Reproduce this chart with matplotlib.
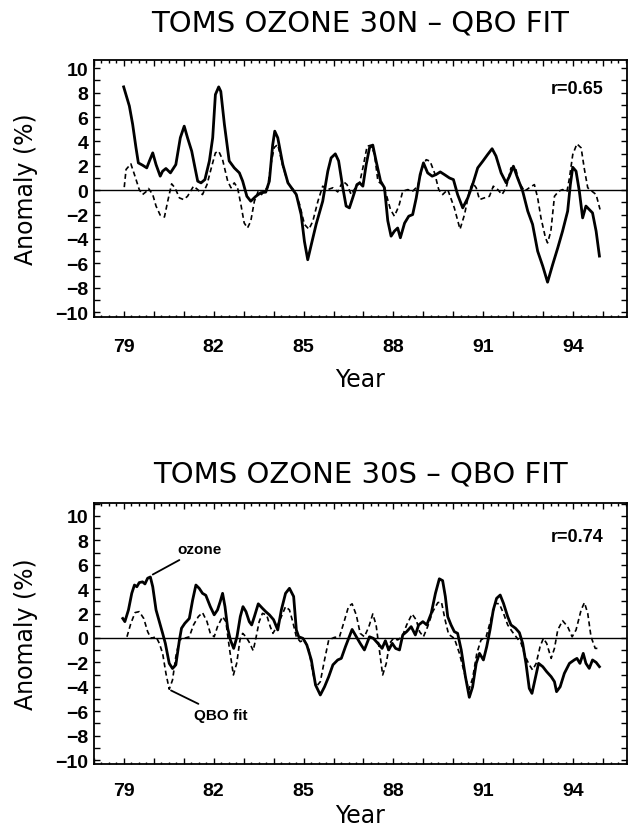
import matplotlib
matplotlib.use('Agg')
import matplotlib.pyplot as plt
from matplotlib.ticker import MultipleLocator, FuncFormatter

# ---- 30N panel data ----
n_oz_year = [79.0, 79.19, 79.3, 79.41, 79.49, 79.63, 79.77, 79.86, 79.97, 80.08,
             80.22, 80.3, 80.41, 80.56, 80.74, 80.89, 81.02, 81.13, 81.27, 81.38,
             81.47, 81.58, 81.71, 81.86, 81.97, 82.06, 82.17, 82.24, 82.36, 82.52,
             82.69, 82.86, 82.97, 83.11, 83.24, 83.41, 83.58, 83.74, 83.86, 83.97,
             84.04, 84.14, 84.31, 84.48, 84.64, 84.76, 84.92, 85.03, 85.14, 85.26,
             85.42, 85.64, 85.81, 85.92, 86.06, 86.17, 86.31, 86.42, 86.53, 86.64,
             86.78, 86.87, 86.98, 87.09, 87.2, 87.31, 87.42, 87.57, 87.7, 87.81,
             87.92, 88.03, 88.14, 88.23, 88.37, 88.51, 88.64, 88.76, 88.89, 89.0,
             89.14, 89.29, 89.42, 89.56, 89.7, 89.87, 90.0, 90.14, 90.31, 90.48,
             90.64, 90.81, 90.98, 91.14, 91.29, 91.42, 91.59, 91.76, 91.87, 92.0,
             92.14, 92.31, 92.48, 92.64, 92.81, 92.98, 93.14, 93.31, 93.48, 93.64,
             93.81, 93.9, 93.98, 94.09, 94.2, 94.31, 94.42, 94.53, 94.64, 94.76,
             94.87]
n_oz = [8.47, 6.9, 5.4, 3.5, 2.24, 2.05, 1.83, 2.4, 3.06, 2.1,
        1.15, 1.56, 1.78, 1.42, 2.1, 4.3, 5.25, 4.3, 3.2, 1.83,
        0.74, 0.6, 0.87, 2.4, 4.3, 7.84, 8.47, 8.1, 5.4, 2.4,
        1.83, 1.42, 0.74, -0.5, -0.9, -0.5, -0.2, -0.16, 0.74, 3.7,
        4.84, 4.3, 2.1, 0.6, 0.05, -0.36, -2.0, -4.2, -5.7, -4.45,
        -2.8, -0.9, 1.56, 2.65, 2.98, 2.4, 0.2, -1.3, -1.45, -0.63,
        0.46, 0.6, 0.33, 2.1, 3.47, 3.7, 2.4, 0.74, 0.2, -2.5,
        -3.77, -3.36, -3.1, -3.9, -2.7, -2.13, -2.0, -0.63, 1.28, 2.24,
        1.42, 1.15, 1.28, 1.5, 1.28, 1.0, 0.87, -0.36, -1.45, -0.63,
        0.46, 1.83, 2.38, 2.92, 3.4, 2.8, 1.42, 0.6, 1.15, 1.97,
        1.0, -0.08, -1.72, -2.8, -5.0, -6.23, -7.54, -6.1, -4.73, -3.36,
        -1.72, 0.46, 1.88, 1.56, -0.08, -2.27, -1.3, -1.58, -1.86, -3.36,
        -5.4]
n_qbo_year = [79.02, 79.08, 79.24, 79.36, 79.52, 79.63, 79.74, 79.83, 79.97, 80.08,
              80.22, 80.36, 80.47, 80.6, 80.71, 80.86, 81.0, 81.13, 81.33, 81.47,
              81.63, 81.78, 81.91, 82.06, 82.17, 82.3, 82.47, 82.58, 82.69, 82.8,
              82.91, 83.02, 83.13, 83.24, 83.36, 83.49, 83.6, 83.71, 83.8, 83.91,
              84.02, 84.14, 84.31, 84.48, 84.59, 84.7, 84.87, 85.03, 85.18, 85.31,
              85.48, 85.64, 85.81, 85.98, 86.14, 86.31, 86.45, 86.59, 86.73, 86.87,
              86.98, 87.12, 87.26, 87.37, 87.48, 87.62, 87.76, 87.9, 88.03, 88.18,
              88.31, 88.48, 88.64, 88.81, 88.96, 89.09, 89.22, 89.37, 89.51, 89.64,
              89.81, 90.03, 90.22, 90.37, 90.53, 90.64, 90.76, 90.87, 91.03, 91.2,
              91.33, 91.48, 91.62, 91.76, 91.92, 92.07, 92.2, 92.37, 92.53, 92.7,
              92.81, 92.92, 93.07, 93.14, 93.25, 93.37, 93.51, 93.64, 93.79, 93.87,
              93.98, 94.12, 94.26, 94.37, 94.48, 94.62, 94.76, 94.89]
n_qbo = [0.25, 1.7, 2.16, 1.28, 0.05, -0.36, -0.14, 0.14, -0.36, -1.3,
         -2.05, -2.2, -0.9, 0.52, 0.2, -0.63, -0.77, -0.5, 0.33, 0.05,
         -0.36, 0.46, 1.7, 3.06, 3.2, 2.5, 0.74, 0.2, 0.6, 0.2,
         -1.17, -2.68, -3.1, -2.54, -0.9, -0.08, -0.36, 0.05, 0.2, 2.1,
         3.5, 3.74, 1.97, 0.6, 0.2, -0.03, -1.17, -2.8, -3.2, -2.54,
         -0.9, 0.33, 0.05, 0.2, -0.14, 0.74, 0.46, -0.36, 0.2, 0.6,
         1.83, 3.6, 3.7, 2.9, 0.74, 0.46, -0.36, -1.58, -2.13, -1.3,
         -0.08, 0.05, -0.08, 0.33, 1.83, 2.5, 2.38, 1.42, 0.05, -0.36,
         0.05, -1.45, -3.2, -2.0, -0.08, 0.6, 0.2, -0.77, -0.63, -0.5,
         0.33, 0.05, -0.36, 0.2, 1.83, 1.83, 0.6, -0.08, 0.2, 0.46,
         -0.63, -2.27, -3.9, -4.32, -3.36, -0.5, -0.08, 0.05, -0.08, 1.0,
         2.92, 3.8, 3.47, 1.7, 0.2, -0.08, -0.36, -1.58]

# ---- 30S panel data ----
s_oz_year = [78.97, 79.04, 79.16, 79.27, 79.36, 79.44, 79.52, 79.63, 79.71, 79.8,
             79.89, 79.97, 80.08, 80.19, 80.3, 80.39, 80.52, 80.63, 80.74, 80.86,
             80.93, 81.04, 81.19, 81.3, 81.41, 81.52, 81.63, 81.74, 81.89, 82.02,
             82.13, 82.22, 82.3, 82.38, 82.47, 82.56, 82.67, 82.78, 82.89, 82.98,
             83.08, 83.19, 83.27, 83.36, 83.49, 83.63, 83.74, 83.86, 84.0, 84.14,
             84.26, 84.4, 84.53, 84.67, 84.76, 84.84, 84.98, 85.11, 85.26, 85.4,
             85.56, 85.7, 85.84, 85.98, 86.14, 86.26, 86.4, 86.62, 86.76, 86.89,
             87.03, 87.2, 87.33, 87.48, 87.62, 87.73, 87.84, 87.96, 88.07, 88.2,
             88.31, 88.44, 88.59, 88.73, 88.84, 88.98, 89.11, 89.26, 89.4, 89.53,
             89.64, 89.73, 89.81, 89.92, 90.03, 90.14, 90.26, 90.4, 90.53, 90.64,
             90.76, 90.87, 91.0, 91.11, 91.22, 91.33, 91.44, 91.56, 91.67, 91.81,
             91.92, 92.07, 92.2, 92.31, 92.42, 92.53, 92.62, 92.73, 92.84, 92.98,
             93.11, 93.26, 93.37, 93.44, 93.56, 93.7, 93.87, 94.03, 94.12, 94.22,
             94.33, 94.42, 94.53, 94.64, 94.76, 94.87]
s_oz = [1.6, 1.34, 2.3, 3.66, 4.34, 4.2, 4.54, 4.6, 4.43, 4.9,
        5.0, 4.2, 2.3, 1.34, 0.38, -0.44, -2.08, -2.5, -2.2, -0.16,
        0.8, 1.2, 1.6, 3.1, 4.34, 4.07, 3.66, 3.5, 2.57, 1.9,
        2.3, 2.98, 3.66, 2.57, 0.8, -0.16, -0.85, 0.1, 1.75, 2.57,
        2.16, 1.34, 1.07, 1.75, 2.8, 2.43, 2.16, 1.9, 1.5, 0.66,
        2.3, 3.66, 4.07, 3.4, 0.66, 0.1, -0.03, -0.57, -1.8, -3.85,
        -4.67, -4.0, -3.17, -2.2, -1.8, -1.67, -0.7, 0.7, 0.1, -0.44,
        -0.98, 0.1, -0.03, -0.44, -0.85, -0.22, -0.98, -0.44, -0.85, -0.98,
        0.25, 0.52, 0.93, 0.25, 1.07, 1.34, 1.07, 2.02, 3.66, 4.85,
        4.7, 3.4, 1.75, 1.07, 0.52, 0.38, -0.98, -3.17, -4.86, -4.0,
        -2.08, -1.26, -1.8, -0.71, 0.66, 2.3, 3.25, 3.52, 2.84, 1.75,
        1.07, 0.8, 0.44, -0.44, -2.08, -4.13, -4.54, -3.3, -2.08, -2.35,
        -2.76, -3.17, -3.58, -4.4, -4.0, -2.9, -2.08, -1.8, -1.67, -2.08,
        -1.26, -2.08, -2.49, -1.8, -2.0, -2.35]
s_qbo_year = [79.11, 79.24, 79.38, 79.52, 79.67, 79.8, 79.91, 80.08, 80.19, 80.3,
              80.41, 80.52, 80.63, 80.74, 80.86, 81.02, 81.19, 81.33, 81.49, 81.63,
              81.78, 81.89, 82.02, 82.13, 82.3, 82.41, 82.52, 82.66, 82.77, 82.88,
              82.97, 83.08, 83.21, 83.32, 83.41, 83.52, 83.63, 83.77, 83.89, 83.98,
              84.11, 84.26, 84.4, 84.53, 84.64, 84.76, 84.89, 85.03, 85.18, 85.29,
              85.42, 85.56, 85.7, 85.84, 86.03, 86.2, 86.37, 86.5, 86.62, 86.76,
              86.89, 87.03, 87.18, 87.31, 87.42, 87.53, 87.64, 87.76, 87.87, 88.0,
              88.14, 88.29, 88.44, 88.62, 88.76, 88.87, 89.0, 89.14, 89.31, 89.48,
              89.6, 89.73, 89.84, 90.03, 90.2, 90.37, 90.51, 90.64, 90.78, 90.92,
              91.09, 91.26, 91.4, 91.53, 91.67, 91.81, 91.96, 92.09, 92.26, 92.4,
              92.53, 92.64, 92.76, 92.89, 93.0, 93.11, 93.26, 93.37, 93.48, 93.64,
              93.81, 93.96, 94.09, 94.26, 94.37, 94.48, 94.59, 94.73, 94.81]
s_qbo = [0.1, 1.2, 2.08, 2.16, 1.6, 0.52, -0.03, 0.1, -0.44, -1.26,
         -2.9, -4.2, -3.44, -1.53, -0.16, -0.03, 0.1, 1.07, 1.75, 2.08,
         1.34, 0.38, 0.1, 0.93, 1.75, 1.34, -0.71, -3.03, -2.08, -0.16,
         0.38, 0.1, -0.44, -1.04, -0.03, 1.34, 2.02, 1.88, 0.93, 0.38,
         0.93, 1.75, 2.57, 2.3, 1.34, 0.1, -0.3, -0.16, -0.98, -2.62,
         -4.0, -3.58, -1.8, -0.16, 0.05, 0.1, 1.48, 2.57, 2.8, 1.88,
         0.38, 0.1, 0.93, 1.97, 1.07, -0.98, -3.03, -2.08, -0.44, -0.03,
         -0.16, 0.1, 1.07, 1.97, 1.48, 0.52, 0.1, 0.93, 2.16, 2.9,
         2.95, 1.4, 0.3, -0.03, -1.26, -2.9, -4.26, -3.3, -1.26, -0.16,
         0.1, 1.6, 2.84, 2.8, 2.02, 1.07, 0.52, 0.1, -0.44, -1.53,
         -2.2, -2.62, -2.08, -0.71, -0.03, -0.44, -1.67, -0.85, 0.66, 1.42,
         0.93, 0.1, 0.66, 2.3, 2.9, 2.02, 0.1, -0.85, -0.85]

titles = ['TOMS OZONE 30N \u2013 QBO FIT', 'TOMS OZONE 30S \u2013 QBO FIT']
r_labels = ['r=0.65', 'r=0.74']
year_labels = [79, 82, 85, 88, 91, 94]

fig = plt.figure(figsize=(6.33, 8.37), dpi=100)
ax_n = fig.add_axes([0.148, 0.620, 0.843, 0.3075])
ax_s = fig.add_axes([0.148, 0.0864, 0.843, 0.312])

# axes, ozone x/y, qbo x/y, ylim, title pad, xtick pad, xlabel pad
panels = [
    (ax_n, n_oz_year, n_oz, n_qbo_year, n_qbo, (-10.4, 10.7), 21, 15, 9),
    (ax_s, s_oz_year, s_oz, s_qbo_year, s_qbo, (-10.3, 11.1), 15, 13, 3),
]


def year_fmt(v, pos):
    iv = int(round(v))
    if abs(v - iv) < 1e-6 and iv in year_labels:
        return str(iv)
    return ''


for i, (ax, oy, ov, qy, qv, ylim, tpad, xpad, lpad) in enumerate(panels):
    ax.axhline(0, color='black', lw=1.0)
    ax.plot(qy, qv, color='black', lw=1.2, ls=(0, (3.0, 2.0)))
    ax.plot(oy, ov, color='black', lw=2.0, solid_joinstyle='round')
    ax.set_xlim(78, 95.8)
    ax.set_ylim(*ylim)

    ax.xaxis.set_major_locator(MultipleLocator(1))
    ax.xaxis.set_minor_locator(MultipleLocator(0.25))
    ax.xaxis.set_major_formatter(FuncFormatter(year_fmt))
    ax.yaxis.set_major_locator(MultipleLocator(2))
    ax.yaxis.set_minor_locator(MultipleLocator(1))
    ax.tick_params(axis='both', which='both', direction='in', top=True, right=True,
                   width=1.0)
    ax.tick_params(axis='x', which='major', length=4, pad=xpad)
    ax.tick_params(axis='x', which='minor', length=1.8)
    ax.tick_params(axis='y', which='major', length=4, pad=4)
    ax.tick_params(axis='y', which='minor', length=4)
    for lab in ax.get_xticklabels() + ax.get_yticklabels():
        lab.set_fontfamily('Liberation Sans')
        lab.set_fontweight('bold')
        lab.set_fontsize(14)
    for sp in ax.spines.values():
        sp.set_linewidth(1.3)

    ax.set_title(titles[i], fontsize=21, family='DejaVu Sans', pad=tpad)
    ax.set_xlabel('Year', fontsize=17, family='DejaVu Sans', labelpad=lpad)
    ax.set_ylabel('Anomaly (%)', fontsize=17, family='DejaVu Sans', labelpad=12)
    ax.text(95.0, 8.3, r_labels[i], ha='right', va='center', fontsize=13,
            family='Liberation Sans', fontweight='bold')

# labels for the two curves in the 30S panel
ax_s.annotate('ozone', xy=(79.97, 5.2), xytext=(80.8, 7.3), fontsize=11,
              family='Liberation Sans', fontweight='bold', va='center',
              arrowprops=dict(arrowstyle='-', color='black', lw=1.3,
                              shrinkA=2, shrinkB=0))
ax_s.annotate('QBO fit', xy=(80.58, -4.3), xytext=(81.35, -6.3), fontsize=11,
              family='Liberation Sans', fontweight='bold', va='center',
              arrowprops=dict(arrowstyle='-', color='black', lw=1.3,
                              shrinkA=2, shrinkB=0))

fig.savefig('out.png', dpi=100)
